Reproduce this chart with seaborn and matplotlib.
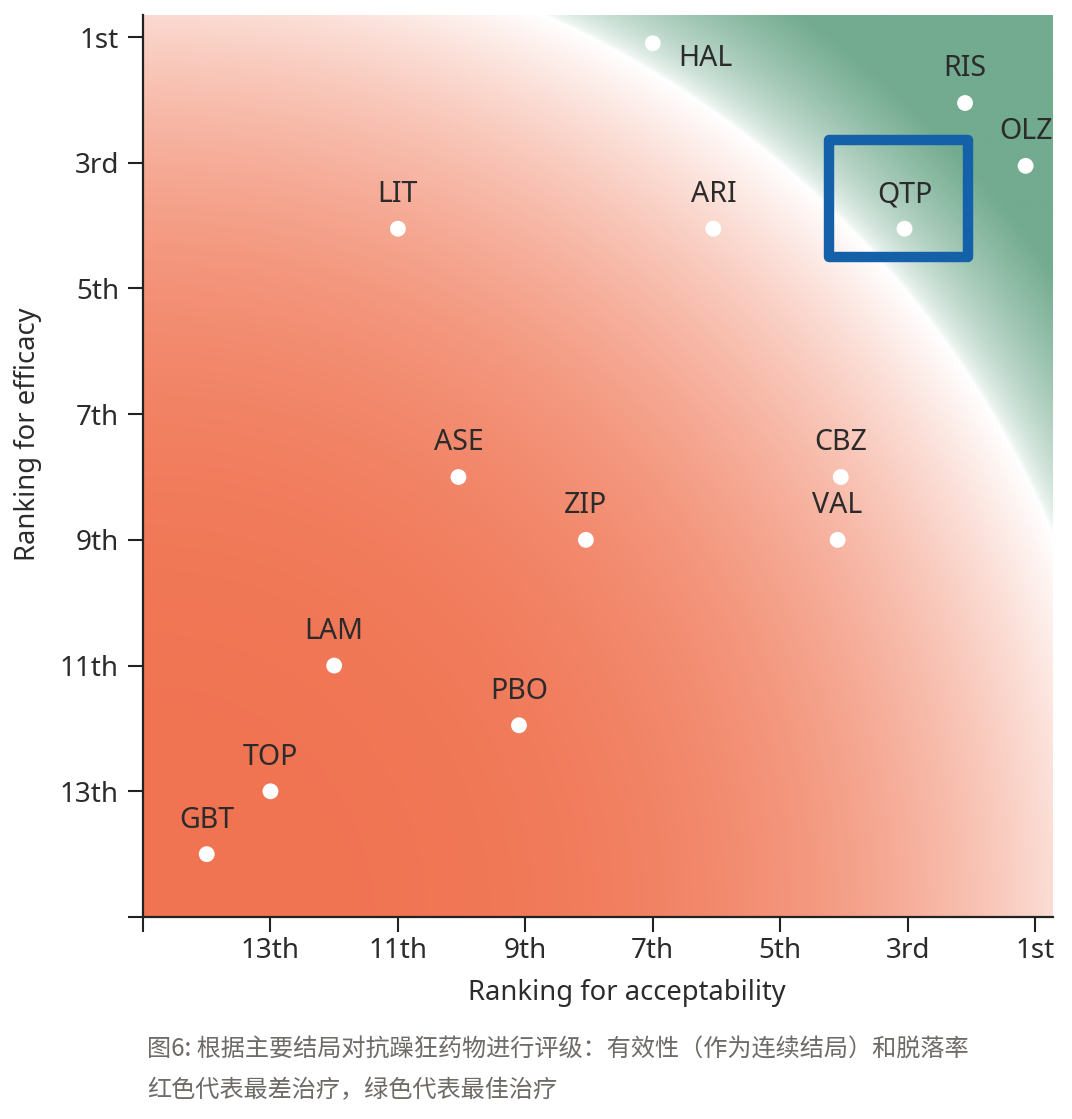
import numpy as np
import pandas as pd
import seaborn as sns
import matplotlib.pyplot as plt
from matplotlib.patches import Rectangle

# data (rank 1 = best)
drugs = ["HAL", "RIS", "OLZ", "QTP", "ARI", "LIT", "ASE", "ZIP",
         "CBZ", "VAL", "LAM", "PBO", "TOP", "GBT"]
acceptability = [7.0, 2.1, 1.15, 3.05, 6.05, 11.0, 10.05, 8.05,
                 4.05, 4.1, 12.0, 9.1, 13.0, 14.0]
efficacy = [1.1, 2.05, 3.05, 4.05, 4.05, 4.05, 8.0, 9.0,
            8.0, 9.0, 11.0, 11.95, 13.0, 14.0]
tick_pos = [1, 3, 5, 7, 9, 11, 13, 15]
tick_lab = ["1st", "3rd", "5th", "7th", "9th", "11th", "13th", ""]

df = pd.DataFrame({"drug": drugs, "acc": acceptability, "eff": efficacy})

sns.set_style("ticks")
plt.rcParams["font.family"] = ["Noto Sans", "DejaVu Sans"]
txt_col = "#2b2b2b"

fig = plt.figure(figsize=(10.72, 11.19), dpi=100)
ax = fig.add_axes([143 / 1072, 202 / 1119, 910 / 1072, 902 / 1119])

# background: red -> white -> green, circular around the worst corner
W, H, R = 910.0, 902.0, 988.0
u = np.linspace(0, 1, 700)
v = np.linspace(0, 1, 700)
U, V = np.meshgrid(u, v)
r = np.sqrt((U * W) ** 2 + (V * H) ** 2)
red = np.array([240, 116, 82]) / 255
white = np.array([1.0, 1.0, 1.0])
green = np.array([114, 171, 143]) / 255
t = np.clip(r / R, 0, 1) ** 3.4
s = np.clip((r - R) / 130, 0, 1) ** 0.6
img = np.where((r <= R)[..., None],
               red * (1 - t[..., None]) + white * t[..., None],
               white * (1 - s[..., None]) + green * s[..., None])
ax.imshow(img, extent=[0, 1, 0, 1], origin="lower", aspect="auto",
          transform=ax.transAxes, zorder=0, interpolation="bilinear")

sns.scatterplot(data=df, x="acc", y="eff", ax=ax, color="white", s=130,
                edgecolor="none", zorder=3, legend=False)

for _, row in df.iterrows():
    if row["drug"] == "HAL":
        off = (38, -11)
    else:
        off = (0, 24.5)
    ax.annotate(row["drug"], (row["acc"], row["eff"]), xytext=off,
                textcoords="offset points", ha="center", va="center",
                fontsize=20.5, color=txt_col, zorder=4)

# highlight box around QTP
ax.add_patch(Rectangle((4.24, 2.64), -2.19, 1.86, fill=False,
                       edgecolor="#1461aa", linewidth=7.5,
                       joinstyle="round", zorder=5))

ax.set_xlim(15, 0.72)
ax.set_ylim(15, 0.65)
ax.set_xticks(tick_pos)
ax.set_xticklabels(tick_lab)
ax.set_yticks(tick_pos)
ax.set_yticklabels(tick_lab)
ax.tick_params(axis="both", length=10.8, width=1.5, colors="#222222",
               labelsize=20, labelcolor=txt_col)
ax.tick_params(axis="x", pad=3.5)
ax.tick_params(axis="y", pad=6.5)
for side in ["top", "right"]:
    ax.spines[side].set_visible(False)
for side in ["left", "bottom"]:
    ax.spines[side].set_linewidth(1.6)
    ax.spines[side].set_color("#222222")

ax.set_xlabel("Ranking for acceptability", fontsize=19.7, color=txt_col, va="center")
ax.set_ylabel("Ranking for efficacy", fontsize=19.7, color=txt_col, va="center")
ax.xaxis.set_label_coords(0.532, -0.084)
ax.yaxis.set_label_coords(-0.126, 0.535)

cap_font = ["Noto Sans CJK SC", "DejaVu Sans"]
fig.text(147 / 1072, 1 - 1050 / 1119,
         "图6: 根据主要结局对抗躁狂药物进行评级：有效性（作为连续结局）和脱落率",
         fontsize=17.4, color="#6e6a66", family=cap_font, va="center", ha="left")
fig.text(147 / 1072, 1 - 1090 / 1119,
         "红色代表最差治疗，绿色代表最佳治疗",
         fontsize=17.4, color="#6e6a66", family=cap_font, va="center", ha="left")

fig.savefig("out.png", dpi=100)
